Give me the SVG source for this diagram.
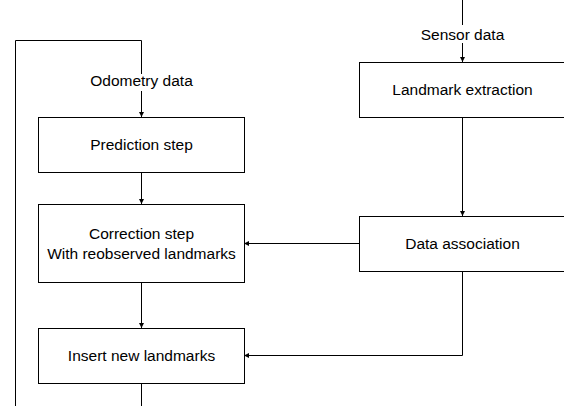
<svg xmlns="http://www.w3.org/2000/svg" width="564" height="406" viewBox="0 0 564 406">
<defs>
<marker id="ah" viewBox="0 0 10 10" refX="10" refY="5" markerWidth="5" markerHeight="5" orient="auto" markerUnits="userSpaceOnUse"><path d="M0,0 L10,5 L0,10 z" fill="#000"/></marker>
<style>
.box{fill:#fff;stroke:#000;stroke-width:1}
.ln{fill:none;stroke:#000;stroke-width:1}
.ar{fill:none;stroke:#000;stroke-width:1;marker-end:url(#ah)}
text{font-family:"Liberation Sans",Arial,sans-serif;font-size:15.5px;fill:#000;text-anchor:middle}
.lbg{fill:#fff}
</style>
</defs>
<rect width="564" height="406" fill="#fff"/>
<g id="connectors">
<path class="ln" d="M15.5,406 V40.5 H141.5 V74"/>
<path class="ar" d="M141.5,91 V117"/>
<path class="ar" d="M141.5,172 V204"/>
<path class="ar" d="M141.5,282 V328"/>
<path class="ln" d="M141.5,383 V406"/>
<path class="ln" d="M462.5,0 V25"/>
<path class="ar" d="M462.5,43 V62"/>
<path class="ar" d="M462.5,117 V216"/>
<path class="ar" d="M359,243.5 H244"/>
<path class="ar" d="M462.5,271 V355.5 H244"/>
</g>
<g id="label-odometry"><text x="141.5" y="86">Odometry data</text></g>
<g id="label-sensor"><text x="462.5" y="40">Sensor data</text></g>
<g id="prediction"><rect class="box" x="38.5" y="117.5" width="206" height="55"/><text x="141.5" y="150">Prediction step</text></g>
<g id="correction"><rect class="box" x="38.5" y="204.5" width="206" height="78"/><text x="141.5" y="239">Correction step</text><text x="141.5" y="259">With reobserved landmarks</text></g>
<g id="insert"><rect class="box" x="38.5" y="328.5" width="206" height="55"/><text x="141.5" y="361">Insert new landmarks</text></g>
<g id="extraction"><rect class="box" x="359.5" y="62.5" width="206" height="55"/><text x="462.5" y="95">Landmark extraction</text></g>
<g id="association"><rect class="box" x="359.5" y="216.5" width="206" height="55"/><text x="462.5" y="249">Data association</text></g>
</svg>
